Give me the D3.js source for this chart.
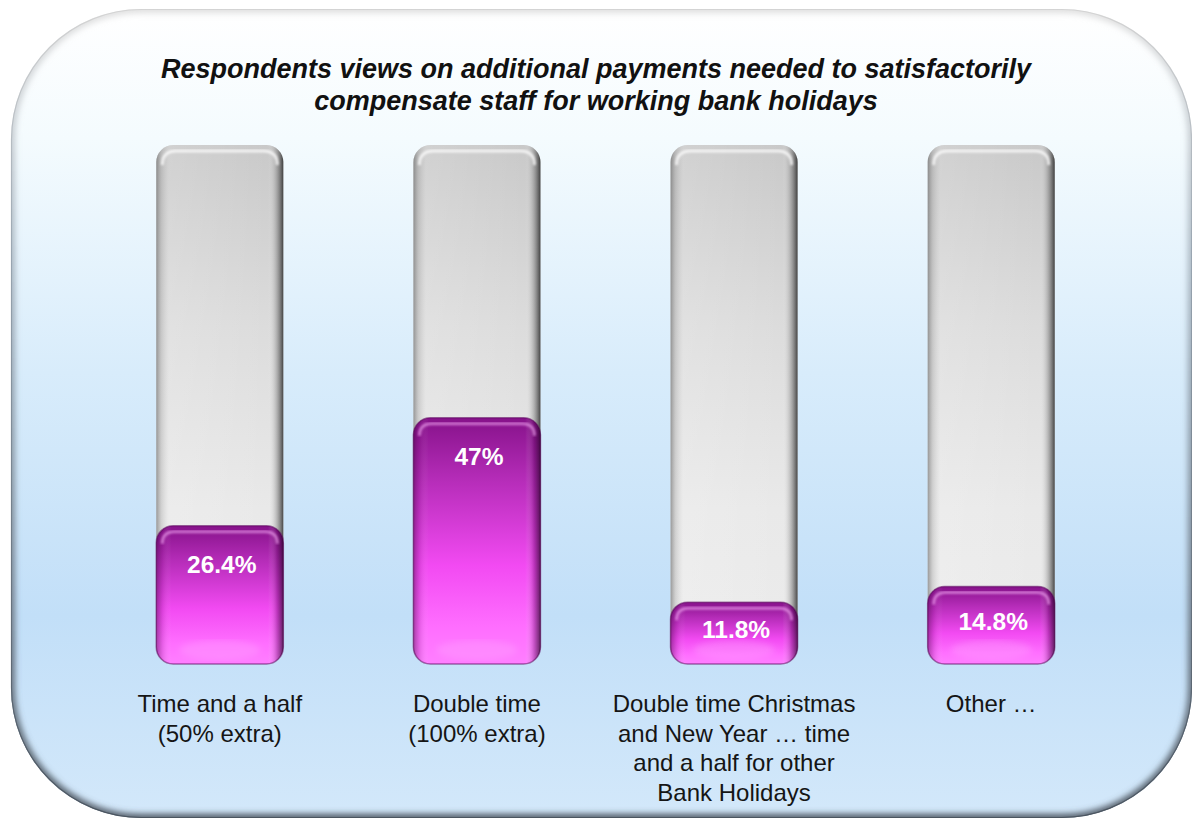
<!DOCTYPE html>
<html>
<head>
<meta charset="utf-8">
<script src="https://cdn.jsdelivr.net/npm/d3@7"></script>
<style>
  html, body { margin: 0; padding: 0; background: #ffffff; }
  svg { display: block; }
</style>
</head>
<body>
<script>
// Survey answers: share of respondents choosing each payment option
const categories = [
  ["Time and a half", "(50% extra)"],
  ["Double time", "(100% extra)"],
  ["Double time Christmas", "and New Year \u2026 time", "and a half for other", "Bank Holidays"],
  ["Other \u2026"]
];
const values = [26.4, 47, 11.8, 14.8];
const valueLabels = ["26.4%", "47%", "11.8%", "14.8%"];
const titleLines = [
  "Respondents views on additional payments needed to satisfactorily",
  "compensate staff for working bank holidays"
];

const W = 1192, H = 820;
const svg = d3.select("body").append("svg").attr("width", W).attr("height", H);
const defs = svg.append("defs");

// ---- gradients & filters ----
function linGrad(id, x1, y1, x2, y2, stops) {
  const g = defs.append("linearGradient").attr("id", id)
    .attr("x1", x1).attr("y1", y1).attr("x2", x2).attr("y2", y2);
  stops.forEach(s => g.append("stop").attr("offset", s[0]).attr("stop-color", s[1])
    .attr("stop-opacity", s[2] === undefined ? 1 : s[2]));
  return g;
}
linGrad("panelFill", 0, 0, 0, 1, [[0, "#ffffff"], [0.16, "#f4fbfe"], [0.45, "#d8ecfb"], [0.75, "#c2dff8"], [1, "#d3e8fa"]]);
linGrad("trackFill", 0, 0, 0, 1, [[0, "#c9c9c9"], [0.35, "#dcdcdc"], [0.7, "#e9e9e9"], [1, "#ececec"]]);
linGrad("trackSide", 0, 0, 1, 0, [[0, "#555", 0.55], [0.04, "#888", 0.25], [0.1, "#fff", 0.15], [0.88, "#fff", 0], [0.95, "#555", 0.35], [1, "#111", 0.75]]);
linGrad("barFill", 0, 0, 0, 1, [[0, "#86128a"], [0.25, "#b52cb8"], [0.6, "#f24af2"], [0.85, "#ff6eff"], [1, "#ff7fff"]]);
linGrad("barSide", 0, 0, 1, 0, [[0, "#3a003a", 0.45], [0.05, "#5a005a", 0.15], [0.12, "#fff", 0.0], [0.88, "#fff", 0], [0.95, "#400040", 0.3], [1, "#200020", 0.7]]);
linGrad("panelEdge", 0, 0, 0, 1, [[0, "#c8c8c8", 0.6], [0.3, "#8a96a2", 0.65], [1, "#4b5560", 1]]);

const blur = defs.append("filter").attr("id", "edgeBlur").attr("x", "-5%").attr("y", "-5%").attr("width", "110%").attr("height", "110%");
blur.append("feGaussianBlur").attr("stdDeviation", 3);
const soft = defs.append("filter").attr("id", "soft").attr("x", "-10%").attr("y", "-10%").attr("width", "120%").attr("height", "120%");
soft.append("feGaussianBlur").attr("stdDeviation", 1.2);

// ---- rounded panel ----
const panel = { x: 11, y: 9, w: 1181, h: 809, r: 130 };
defs.append("clipPath").attr("id", "panelClip").append("rect")
  .attr("x", panel.x).attr("y", panel.y).attr("width", panel.w).attr("height", panel.h)
  .attr("rx", panel.r).attr("ry", panel.r);

svg.append("rect")
  .attr("x", panel.x).attr("y", panel.y).attr("width", panel.w).attr("height", panel.h)
  .attr("rx", panel.r).attr("ry", panel.r)
  .attr("fill", "url(#panelFill)");

// inner bevel shadow along the panel edge
svg.append("g").attr("clip-path", "url(#panelClip)")
  .append("rect")
  .attr("x", panel.x).attr("y", panel.y).attr("width", panel.w).attr("height", panel.h)
  .attr("rx", panel.r).attr("ry", panel.r)
  .attr("fill", "none").attr("stroke", "url(#panelEdge)").attr("stroke-width", 8)
  .attr("filter", "url(#edgeBlur)");
svg.append("rect")
  .attr("x", panel.x + 0.5).attr("y", panel.y + 0.5).attr("width", panel.w - 1).attr("height", panel.h - 1)
  .attr("rx", panel.r).attr("ry", panel.r)
  .attr("fill", "none").attr("stroke", "url(#panelEdge)").attr("stroke-width", 1.2);

// ---- title ----
svg.append("g").selectAll("text").data(titleLines).join("text")
  .attr("x", 596).attr("y", (d, i) => 78 + i * 32)
  .attr("text-anchor", "middle")
  .attr("font-family", "'Liberation Sans', Arial, sans-serif")
  .attr("font-weight", "bold").attr("font-style", "italic")
  .attr("font-size", 27).attr("fill", "#111")
  .text(d => d);

// ---- scales ----
const x = d3.scaleBand().domain(d3.range(values.length))
  .range([92, 1119]).paddingInner(0.506).paddingOuter(0.25);
const y = d3.scaleLinear().domain([0, 100]).range([664, 140]);
const trackTop = 145;
const bw = x.bandwidth();
const rr = 17;

const g = svg.append("g");
const bars = g.selectAll("g.bar").data(values).join("g").attr("class", "bar");

// grey track
bars.append("rect")
  .attr("x", (d, i) => x(i)).attr("y", trackTop)
  .attr("width", bw).attr("height", y(0) - trackTop)
  .attr("rx", rr).attr("ry", rr)
  .attr("fill", "url(#trackFill)");
bars.append("rect")
  .attr("x", (d, i) => x(i)).attr("y", trackTop)
  .attr("width", bw).attr("height", y(0) - trackTop)
  .attr("rx", rr).attr("ry", rr)
  .attr("fill", "url(#trackSide)");
// top gloss rim of the track
bars.append("path")
  .attr("d", (d, i) => {
    const x0 = x(i) + 6, x1 = x(i) + bw - 6, t = trackTop + 6;
    return `M${x0},${t + 14} Q${x0},${t} ${x0 + 14},${t} L${x1 - 14},${t} Q${x1},${t} ${x1},${t + 14}`;
  })
  .attr("fill", "none").attr("stroke", "#ffffff").attr("stroke-opacity", 0.75)
  .attr("stroke-width", 3).attr("filter", "url(#soft)");

// purple value bar
bars.append("rect")
  .attr("x", (d, i) => x(i)).attr("y", d => y(d))
  .attr("width", bw).attr("height", d => y(0) - y(d))
  .attr("rx", rr).attr("ry", rr)
  .attr("fill", "url(#barFill)")
  .attr("stroke", "#5c0a5e").attr("stroke-opacity", 0.55).attr("stroke-width", 1.5);
bars.append("rect")
  .attr("x", (d, i) => x(i)).attr("y", d => y(d))
  .attr("width", bw).attr("height", d => y(0) - y(d))
  .attr("rx", rr).attr("ry", rr)
  .attr("fill", "url(#barSide)");
// glossy highlight along the top of the value bar
bars.append("path")
  .attr("d", (d, i) => {
    const x0 = x(i) + 6, x1 = x(i) + bw - 6, t = y(d) + 6;
    return `M${x0},${t + 12} Q${x0},${t} ${x0 + 12},${t} L${x1 - 12},${t} Q${x1},${t} ${x1},${t + 12}`;
  })
  .attr("fill", "none").attr("stroke", "#ffb8ff").attr("stroke-opacity", 0.55)
  .attr("stroke-width", 3).attr("filter", "url(#soft)");
// bottom glow
bars.append("ellipse")
  .attr("cx", (d, i) => x(i) + bw / 2).attr("cy", y(0) - 14)
  .attr("rx", bw * 0.32).attr("ry", 10)
  .attr("fill", "#ffa6ff").attr("opacity", 0.35).attr("filter", "url(#edgeBlur)");

// value labels
bars.append("text")
  .attr("x", (d, i) => x(i) + bw / 2 + 2)
  .attr("y", d => Math.min(y(d) + 39, (y(d) + y(0)) / 2 - 4))
  .attr("dy", "0.35em")
  .attr("text-anchor", "middle")
  .attr("font-family", "'Liberation Sans', Arial, sans-serif")
  .attr("font-weight", "bold").attr("font-size", 24.5)
  .attr("fill", "#ffffff")
  .text((d, i) => valueLabels[i]);

// category labels
const cat = svg.append("g").selectAll("text").data(categories).join("text")
  .attr("text-anchor", "middle")
  .attr("font-family", "'Liberation Sans', Arial, sans-serif")
  .attr("font-size", 24).attr("fill", "#151515");
cat.selectAll("tspan").data((d, i) => d.map(line => ({ line, i }))).join("tspan")
  .attr("x", d => x(d.i) + bw / 2)
  .attr("y", (d, j) => 712 + j * 29.5)
  .text(d => d.line);
</script>
</body>
</html>
